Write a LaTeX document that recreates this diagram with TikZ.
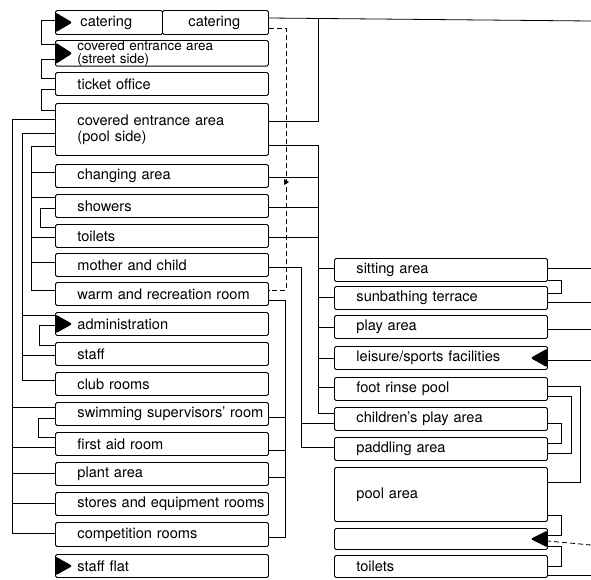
\documentclass[tikz,border=0pt]{standalone}
\usepackage{fontspec}
\setmainfont{TeX Gyre Heros}
\usetikzlibrary{positioning}

\tikzset{
  room/.style={draw, line width=0.9pt, rounded corners=1.5pt, anchor=north west,
    inner sep=0pt, text width=#1, minimum height=23pt, align=left,
    font=\fontsize{14.6}{16}\selectfont, execute at begin node={\leftskip=22pt}},
  room/.default=213pt,
  link/.style={line width=0.8pt},
  flow/.style={line width=0.8pt, dash pattern=on 5pt off 3pt},
  inleft/.style={path picture={\fill ([yshift=-2pt]path picture bounding box.north west)
    -- ([xshift=17pt]path picture bounding box.west)
    -- ([yshift=2pt]path picture bounding box.south west) -- cycle;}},
  inright/.style={path picture={\fill ([yshift=-2pt]path picture bounding box.north east)
    -- ([xshift=-17pt]path picture bounding box.east)
    -- ([yshift=2pt]path picture bounding box.south east) -- cycle;}},
}

\begin{document}
\begin{tikzpicture}[x=1pt, y=-1pt]
\useasboundingbox (0,0) rectangle (591,579);

% left column
\node[room=107pt, minimum height=24pt, inleft] (cat1) at (55,10) {\hspace*{3pt}catering};
\node[room=106pt, minimum height=24pt] (cat2) at (162,10) {\hspace*{4pt}catering};
\node[room, inleft, font=\fontsize{13.5}{13}\selectfont] (street) at (55,40)
  {covered entrance area\\(street side)};
\node[room] (ticket) at (55,72) {ticket office};
\node[room, minimum height=52pt] (pool) at (55,103) {covered entrance area\\(pool side)};
\node[room] (chg) at (55,164) {changing area};
\node[room] (shw) at (55,194) {showers};
\node[room] (wc1) at (55,224) {toilets};
\node[room] (mch) at (55,253) {mother and child};
\node[room] (warm) at (55,282) {warm and recreation room};
\node[room, inleft] (adm) at (55,312) {administration};
\node[room] (stf) at (55,342) {staff};
\node[room] (club) at (55,372) {club rooms};
\node[room] (sup) at (55,402) {swimming supervisors' room};
\node[room] (aid) at (55,432) {first aid room};
\node[room] (plant) at (55,462) {plant area};
\node[room] (store) at (55,492) {stores and equipment rooms};
\node[room, minimum height=24pt] (comp) at (55,522) {competition rooms};
\node[room, inleft] (flat) at (55,554) {staff flat};

% right column
\node[room] (sit) at (334,258) {sitting area};
\node[room] (sun) at (334,286) {sunbathing terrace};
\node[room] (play) at (334,315) {play area};
\node[room, inright] (leis) at (334,346) {leisure/sports facilities};
\node[room] (foot) at (334,377) {foot rinse pool};
\node[room] (kids) at (334,407) {children's play area};
\node[room] (padd) at (334,437) {paddling area};
\node[room, minimum height=54pt] (poolA) at (334,467) {pool area\\[12pt]};
\node[room, minimum height=21pt, inright] (blank) at (334,528) {};
\node[room, minimum height=22pt] (wc2) at (334,555) {toilets};

% free ends at the right margin
\coordinate (out1) at (591,21);
\coordinate (out2) at (591,268);
\coordinate (out3) at (591,302);
\coordinate (out4) at (591,329);
\coordinate (out5) at (591,360);
\coordinate (out6) at (591,545);
\coordinate (out7) at (591,575);

% left side links
\draw[link] (cat1.west |- 0,20) -- (41,20) |- (street.west |- 0,44);
\draw[link] (street.west |- 0,59) -- (41,59) |- (ticket.west |- 0,78);
\draw[link] (ticket.west |- 0,89) -- (41,89) |- (pool.west |- 0,110);
\draw[link] (pool.west |- 0,119) -| (12,533) -- (comp.west |- 0,533);
\foreach \n/\y in {sup/407, aid/447, plant/473, store/503}
  \draw[link] (12,\y) -- (\n.west |- 0,\y);
\draw[link] (pool.west |- 0,133) -| (22,380) -- (club.west |- 0,380);
\foreach \n/\y in {adm/315, stf/355}
  \draw[link] (22,\y) -- (\n.west |- 0,\y);
\draw[link] (pool.west |- 0,146) -| (31,290) -- (warm.west |- 0,290);
\foreach \n/\y in {chg/172, shw/197, wc1/237, mch/262}
  \draw[link] (31,\y) -- (\n.west |- 0,\y);
\draw[link] (shw.west |- 0,208) -- (40,208) |- (wc1.west |- 0,227);
\draw[link] (adm.west |- 0,325) -- (39,325) |- (stf.west |- 0,345);
\draw[link] (sup.west |- 0,418) -- (38,418) |- (aid.west |- 0,437);

% middle links
\draw[link] (cat2.east |- 0,18) -- (out1);
\draw[link] (318,18) |- (pool.east |- 0,121);
\draw[flow] (cat2.east |- 0,28) -| (286,290) -- (warm.east |- 0,290);
\fill (284,179) -- (289,182) -- (284,185) -- cycle;
\draw[link] (pool.east |- 0,145) -| (318,413) -- (kids.west |- 0,413);
\foreach \n/\y in {chg/177, shw/207, wc1/237}
  \draw[link] (\n.east |- 0,\y) -- (318,\y);
\foreach \n/\y in {sit/268, sun/297, play/327, leis/358, foot/387}
  \draw[link] (318,\y) -- (\n.west |- 0,\y);
\draw[link] (mch.east |- 0,267) -| (301,447) -- (padd.west |- 0,447);
\draw[link] (301,423) -- (kids.west |- 0,423);
\draw[link] (warm.east |- 0,300) -| (285,537) -- (comp.east |- 0,537);
\foreach \n/\y in {sup/417, aid/450, plant/477}
  \draw[link] (\n.east |- 0,\y) -- (285,\y);

% right side links
\draw[link] (sit.east |- 0,268) -- (out2);
\draw[link] (sit.east |- 0,280) -- (561,280) |- (sun.east |- 0,293);
\draw[link] (sun.east |- 0,302) -- (out3);
\draw[link] (play.east |- 0,329) -- (out4);
\draw[link] (out5) -- (leis.east |- 0,360);
\draw[link] (foot.east |- 0,386) -| (580,482) -- (poolA.east |- 0,482);
\draw[link] (foot.east |- 0,396) -| (571,453) -- (padd.east |- 0,453);
\draw[link] (kids.east |- 0,423) -- (561,423) |- (padd.east |- 0,443);
\draw[link] (poolA.east |- 0,515) -- (561,515) |- (blank.east |- 0,535);
\draw[link] (blank.east |- 0,546) -- (561,546) |- (wc2.east |- 0,566);
\draw[flow] (out6) -- (blank.east |- 0,541);
\draw[link] (wc2.east |- 0,575) -- (out7);
\end{tikzpicture}
\end{document}
